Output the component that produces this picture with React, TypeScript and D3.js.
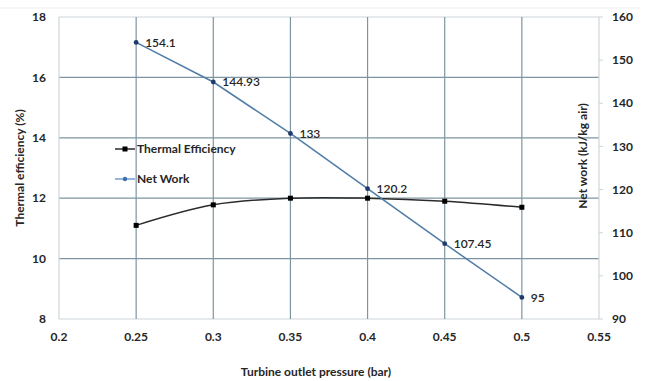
import React from "react";
import * as d3 from "d3";

// Turbine outlet pressure (bar)
const pressures = [0.25, 0.3, 0.35, 0.4, 0.45, 0.5];
// Thermal efficiency (%)
const efficiency = [11.1, 11.78, 12.0, 12.0, 11.9, 11.7];
// Net work (kJ/kg air)
const netWork = [154.1, 144.93, 133, 120.2, 107.45, 95];
const netWorkLabels = ["154.1", "144.93", "133", "120.2", "107.45", "95"];

const xTicks = [0.2, 0.25, 0.3, 0.35, 0.4, 0.45, 0.5, 0.55];
const leftTicks = [8, 10, 12, 14, 16, 18];
const rightTicks = [90, 100, 110, 120, 130, 140, 150, 160];

const W = 660;
const H = 381;
const left = 59;
const right = 599;
const top = 17;
const bottom = 319;

const FONT = "Lato, 'Open Sans', sans-serif";
const GRID = "#7d95a2";
const BORDER = "#cdd5d9";
const TEXT = "#262626";

export default function App() {
  const x = d3.scaleLinear().domain([0.2, 0.55]).range([left, right]);
  const yL = d3.scaleLinear().domain([8, 18]).range([bottom, top]);
  const yR = d3.scaleLinear().domain([90, 160]).range([bottom, top]);

  const effLine = d3
    .line<number>()
    .x((_, i) => x(pressures[i]))
    .y((d) => yL(d))
    .curve(d3.curveCatmullRom.alpha(0.5));

  const workLine = d3
    .line<number>()
    .x((_, i) => x(pressures[i]))
    .y((d) => yR(d));

  const fmt = (v: number) => String(+v.toFixed(2));

  return (
    <svg
      width={W}
      height={H}
      style={{ position: "absolute", left: 0, top: 0, background: "#fff" }}
      fontFamily={FONT}
    >
      <rect x={0} y={0} width={W} height={H} fill="#fff" />
      {/* faint outer frame line */}
      <line x1={0} x2={640} y1={8} y2={8} stroke="#eceff1" strokeWidth={1} />

      {/* horizontal gridlines */}
      {leftTicks.map((t) => (
        <line
          key={"h" + t}
          x1={left}
          x2={right}
          y1={yL(t)}
          y2={yL(t)}
          stroke={t === 8 || t === 18 ? BORDER : GRID}
          strokeWidth={1.2}
        />
      ))}
      {/* vertical gridlines */}
      {xTicks.map((t) => (
        <line
          key={"v" + t}
          x1={x(t)}
          x2={x(t)}
          y1={top}
          y2={bottom}
          stroke={t === 0.2 || t === 0.55 ? BORDER : GRID}
          strokeWidth={1.2}
        />
      ))}
      {/* right axis tick marks */}
      {rightTicks.map((t) => (
        <line
          key={"rt" + t}
          x1={right}
          x2={right + 4}
          y1={yR(t)}
          y2={yR(t)}
          stroke={BORDER}
          strokeWidth={1}
        />
      ))}

      {/* tick labels */}
      {leftTicks.map((t) => (
        <text
          key={"lt" + t}
          x={left - 13}
          y={yL(t)}
          dy="0.35em"
          textAnchor="end"
          fontSize={12}
          fontWeight="bold"
          fill={TEXT}
        >
          {t}
        </text>
      ))}
      {rightTicks.map((t) => (
        <text
          key={"rl" + t}
          x={right + 13}
          y={yR(t)}
          dy="0.35em"
          textAnchor="start"
          fontSize={12}
          fontWeight="bold"
          fill={TEXT}
        >
          {t}
        </text>
      ))}
      {xTicks.map((t) => (
        <text
          key={"xl" + t}
          x={x(t)}
          y={337}
          dy="0.35em"
          textAnchor="middle"
          fontSize={12}
          fontWeight="bold"
          fill={TEXT}
        >
          {fmt(t)}
        </text>
      ))}

      {/* axis titles */}
      <text
        x={316}
        y={372}
        dy="0.35em"
        textAnchor="middle"
        fontSize={12}
        fontWeight="bold"
        fill={TEXT}
      >
        Turbine outlet pressure (bar)
      </text>
      <text
        transform={`translate(20,168) rotate(-90)`}
        dy="0.35em"
        textAnchor="middle"
        fontSize={12}
        fontWeight="bold"
        fill={TEXT}
      >
        Thermal efficiency (%)
      </text>
      <text
        transform={`translate(583,156) rotate(-90)`}
        dy="0.35em"
        textAnchor="middle"
        fontSize={12}
        fontWeight="bold"
        fill={TEXT}
      >
        Net work (kJ/kg air)
      </text>

      {/* thermal efficiency series */}
      <path d={effLine(efficiency) ?? ""} fill="none" stroke="#2b2b2b" strokeWidth={1.5} />
      {efficiency.map((v, i) => (
        <rect
          key={"e" + i}
          x={x(pressures[i]) - 2.5}
          y={yL(v) - 2.5}
          width={5}
          height={5}
          fill="#000"
        />
      ))}

      {/* net work series */}
      <path d={workLine(netWork) ?? ""} fill="none" stroke="#4f7ca6" strokeWidth={1.5} />
      {netWork.map((v, i) => (
        <circle key={"w" + i} cx={x(pressures[i])} cy={yR(v)} r={2.4} fill="#1f3a6b" />
      ))}
      {netWork.map((v, i) => (
        <text
          key={"wl" + i}
          x={x(pressures[i]) + 9}
          y={yR(v)}
          dy="0.35em"
          fontSize={12}
          fontWeight={600}
          fill={TEXT}
        >
          {netWorkLabels[i]}
        </text>
      ))}

      {/* legend */}
      <line x1={115} x2={135} y1={149} y2={149} stroke="#2b2b2b" strokeWidth={1.5} />
      <rect x={122.5} y={146.5} width={5} height={5} fill="#000" />
      <text x={137} y={149} dy="0.35em" fontSize={12} fontWeight="bold" fill={TEXT}>
        Thermal Efficiency
      </text>
      <line x1={115} x2={135} y1={179} y2={179} stroke="#6f9bd0" strokeWidth={1.5} />
      <circle cx={125} cy={179} r={2.2} fill="#3d6fb0" />
      <text x={137} y={179} dy="0.35em" fontSize={12} fontWeight="bold" fill={TEXT}>
        Net Work
      </text>
    </svg>
  );
}
